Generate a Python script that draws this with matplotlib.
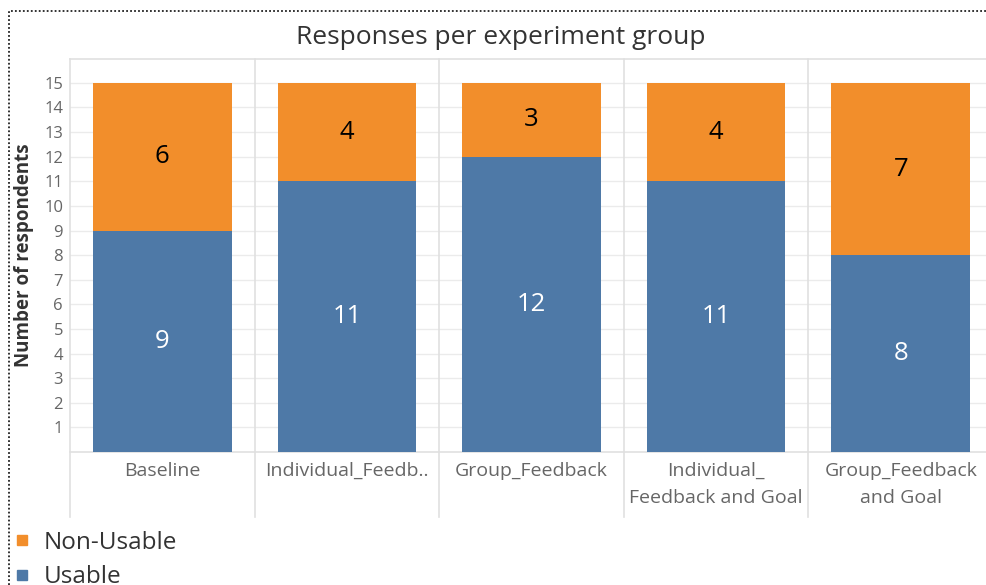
import matplotlib
matplotlib.use("Agg")
import matplotlib.pyplot as plt
import matplotlib.transforms as mtransforms
from matplotlib.lines import Line2D

plt.rcParams['font.family'] = ['Open Sans', 'DejaVu Sans']

groups = ["Baseline", "Individual_Feedb..", "Group_Feedback",
          "Individual_\nFeedback and Goal", "Group_Feedback\nand Goal"]
usable = [9, 11, 12, 11, 8]
non_usable = [6, 4, 3, 4, 7]
y_ticks = list(range(1, 16))

ORANGE = "#F28E2B"
BLUE = "#4E79A7"
GRID = "#EBEBEB"
DIVIDER = "#E0E0E0"
W, H = 986, 585

fig = plt.figure(figsize=(W / 100, H / 100), dpi=100)
fig.patch.set_facecolor("white")

# plot pane in pixel units: left edge, baseline, top of pane, pane width
px_left, px_base, px_top, px_width = 70, 452, 59, 923
ax = fig.add_axes([px_left / W, (H - px_base) / H,
                   px_width / W, (px_base - px_top) / H])
ax.set_xlim(-0.5, len(groups) - 0.5)
ax.set_ylim(0, 15.97)

x = list(range(len(groups)))
ax.bar(x, usable, width=0.75, color=BLUE, zorder=3)
ax.bar(x, non_usable, bottom=usable, width=0.75, color=ORANGE, zorder=3)

for i, (u, n) in enumerate(zip(usable, non_usable)):
    ax.text(i, u / 2, str(u), ha="center", va="center", color="white",
            fontsize=18.5, zorder=4)
    ax.text(i, u + n / 2, str(n), ha="center", va="center", color="black",
            fontsize=18.5, zorder=4)

ax.set_yticks(y_ticks)
ax.set_yticklabels([str(t) for t in y_ticks])
ax.tick_params(axis="y", length=0, pad=5, labelsize=12, labelcolor="#666666")
ax.set_xticks(x)
ax.set_xticklabels(groups, fontsize=14, color="#666666", linespacing=1.65)
ax.tick_params(axis="x", length=0, pad=7)

for t in y_ticks:
    ax.axhline(t, color=GRID, lw=1, zorder=1)
for s in ax.spines.values():
    s.set_visible(False)
ax.axhline(0, color=DIVIDER, lw=1.2, zorder=2, clip_on=False)
ax.axhline(15.97, color=DIVIDER, lw=1.2, zorder=2, clip_on=False)

# panel dividers extending through the label header
bt = mtransforms.blended_transform_factory(ax.transData, fig.transFigure)
y_top_f = (H - px_top) / H
y_bot_f = (H - 517) / H
for b in [i - 0.5 for i in range(len(groups) + 1)]:
    fig.add_artist(Line2D([b, b], [y_bot_f, y_top_f], transform=bt,
                          color=DIVIDER, lw=1.2))

ax.set_ylabel("Number of respondents", fontsize=13.5, fontweight="bold",
              color="#333333", labelpad=7)

fig.text(0.508, (H - 38) / H, "Responses per experiment group",
         ha="center", va="center", fontsize=19, color="#333333")

# legend
handles = [Line2D([], [], marker="s", ls="", color=ORANGE, markersize=7),
           Line2D([], [], marker="s", ls="", color=BLUE, markersize=7)]
fig.legend(handles, ["Non-Usable", "Usable"], loc="upper left",
           bbox_to_anchor=(13 / W, (H - 531) / H), frameon=False,
           fontsize=17.5, labelcolor="#333333", handlelength=0.7,
           handletextpad=0.55, labelspacing=0.42, borderaxespad=0,
           borderpad=0)

# dotted frame around the worksheet
fig.add_artist(Line2D([9 / W, 9 / W, 1.0], [0, (H - 11) / H, (H - 11) / H],
                      transform=fig.transFigure, color="#222222", lw=1.3,
                      ls=(0, (1, 1.2))))

fig.savefig("out.png", dpi=100)
